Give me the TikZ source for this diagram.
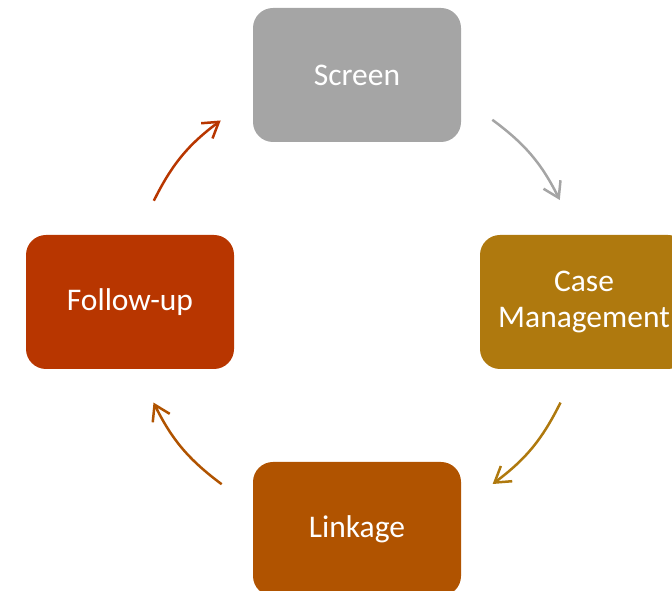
\documentclass[tikz,border=0pt]{standalone}
\usepackage{fontspec}
\setmainfont{Carlito}
\usetikzlibrary{arrows.meta,calc}

\definecolor{screengray}{HTML}{A5A5A5}
\definecolor{casegold}{HTML}{AF790E}
\definecolor{linkorange}{HTML}{B05300}
\definecolor{followred}{HTML}{B83600}

\tikzset{
  stagebox/.style={rounded corners=20pt, minimum width=208pt, minimum height=134pt,
    inner sep=0pt, text=white, align=center,
    font=\fontsize{31.5}{36}\selectfont},
  cyclearrow/.style={line width=2.5pt,
    -{Straight Barb[length=15pt,width=19pt]}},
}

\begin{document}
\begin{tikzpicture}[x=1pt,y=1pt]
  \clip (0,0) rectangle (672,591);
  \useasboundingbox (0,0) rectangle (672,591);

  % the four stages, placed around a common centre
  \coordinate (hub) at (357,289);
  \node[stagebox, fill=screengray] (screen) at (357,516) {Screen};
  \node[stagebox, fill=casegold]   (case)   at (584,289) {Case\\Management};
  \node[stagebox, fill=linkorange] (link)   at (357,62)  {Linkage};
  \node[stagebox, fill=followred]  (follow) at (130,289) {Follow-up};

  % arc end points on a circle of radius 227 about the hub
  \coordinate (a1s) at ($(hub)+(53.4:227)$);
  \coordinate (a1e) at ($(hub)+(26.7:227)$);
  \coordinate (a2s) at ($(hub)+(-26.3:227)$);
  \coordinate (a2e) at ($(hub)+(-53.3:227)$);
  \coordinate (a3s) at ($(hub)+(233.4:227)$);
  \coordinate (a3e) at ($(hub)+(206.3:227)$);
  \coordinate (a4s) at ($(hub)+(153.5:227)$);
  \coordinate (a4e) at ($(hub)+(126.9:227)$);

  \draw[cyclearrow, screengray] (a1s) to[bend left=13.4] (a1e);
  \draw[cyclearrow, casegold]   (a2s) to[bend left=13.4] (a2e);
  \draw[cyclearrow, linkorange] (a3s) to[bend left=13.4] (a3e);
  \draw[cyclearrow, followred]  (a4s) to[bend left=13.4] (a4e);
\end{tikzpicture}
\end{document}
